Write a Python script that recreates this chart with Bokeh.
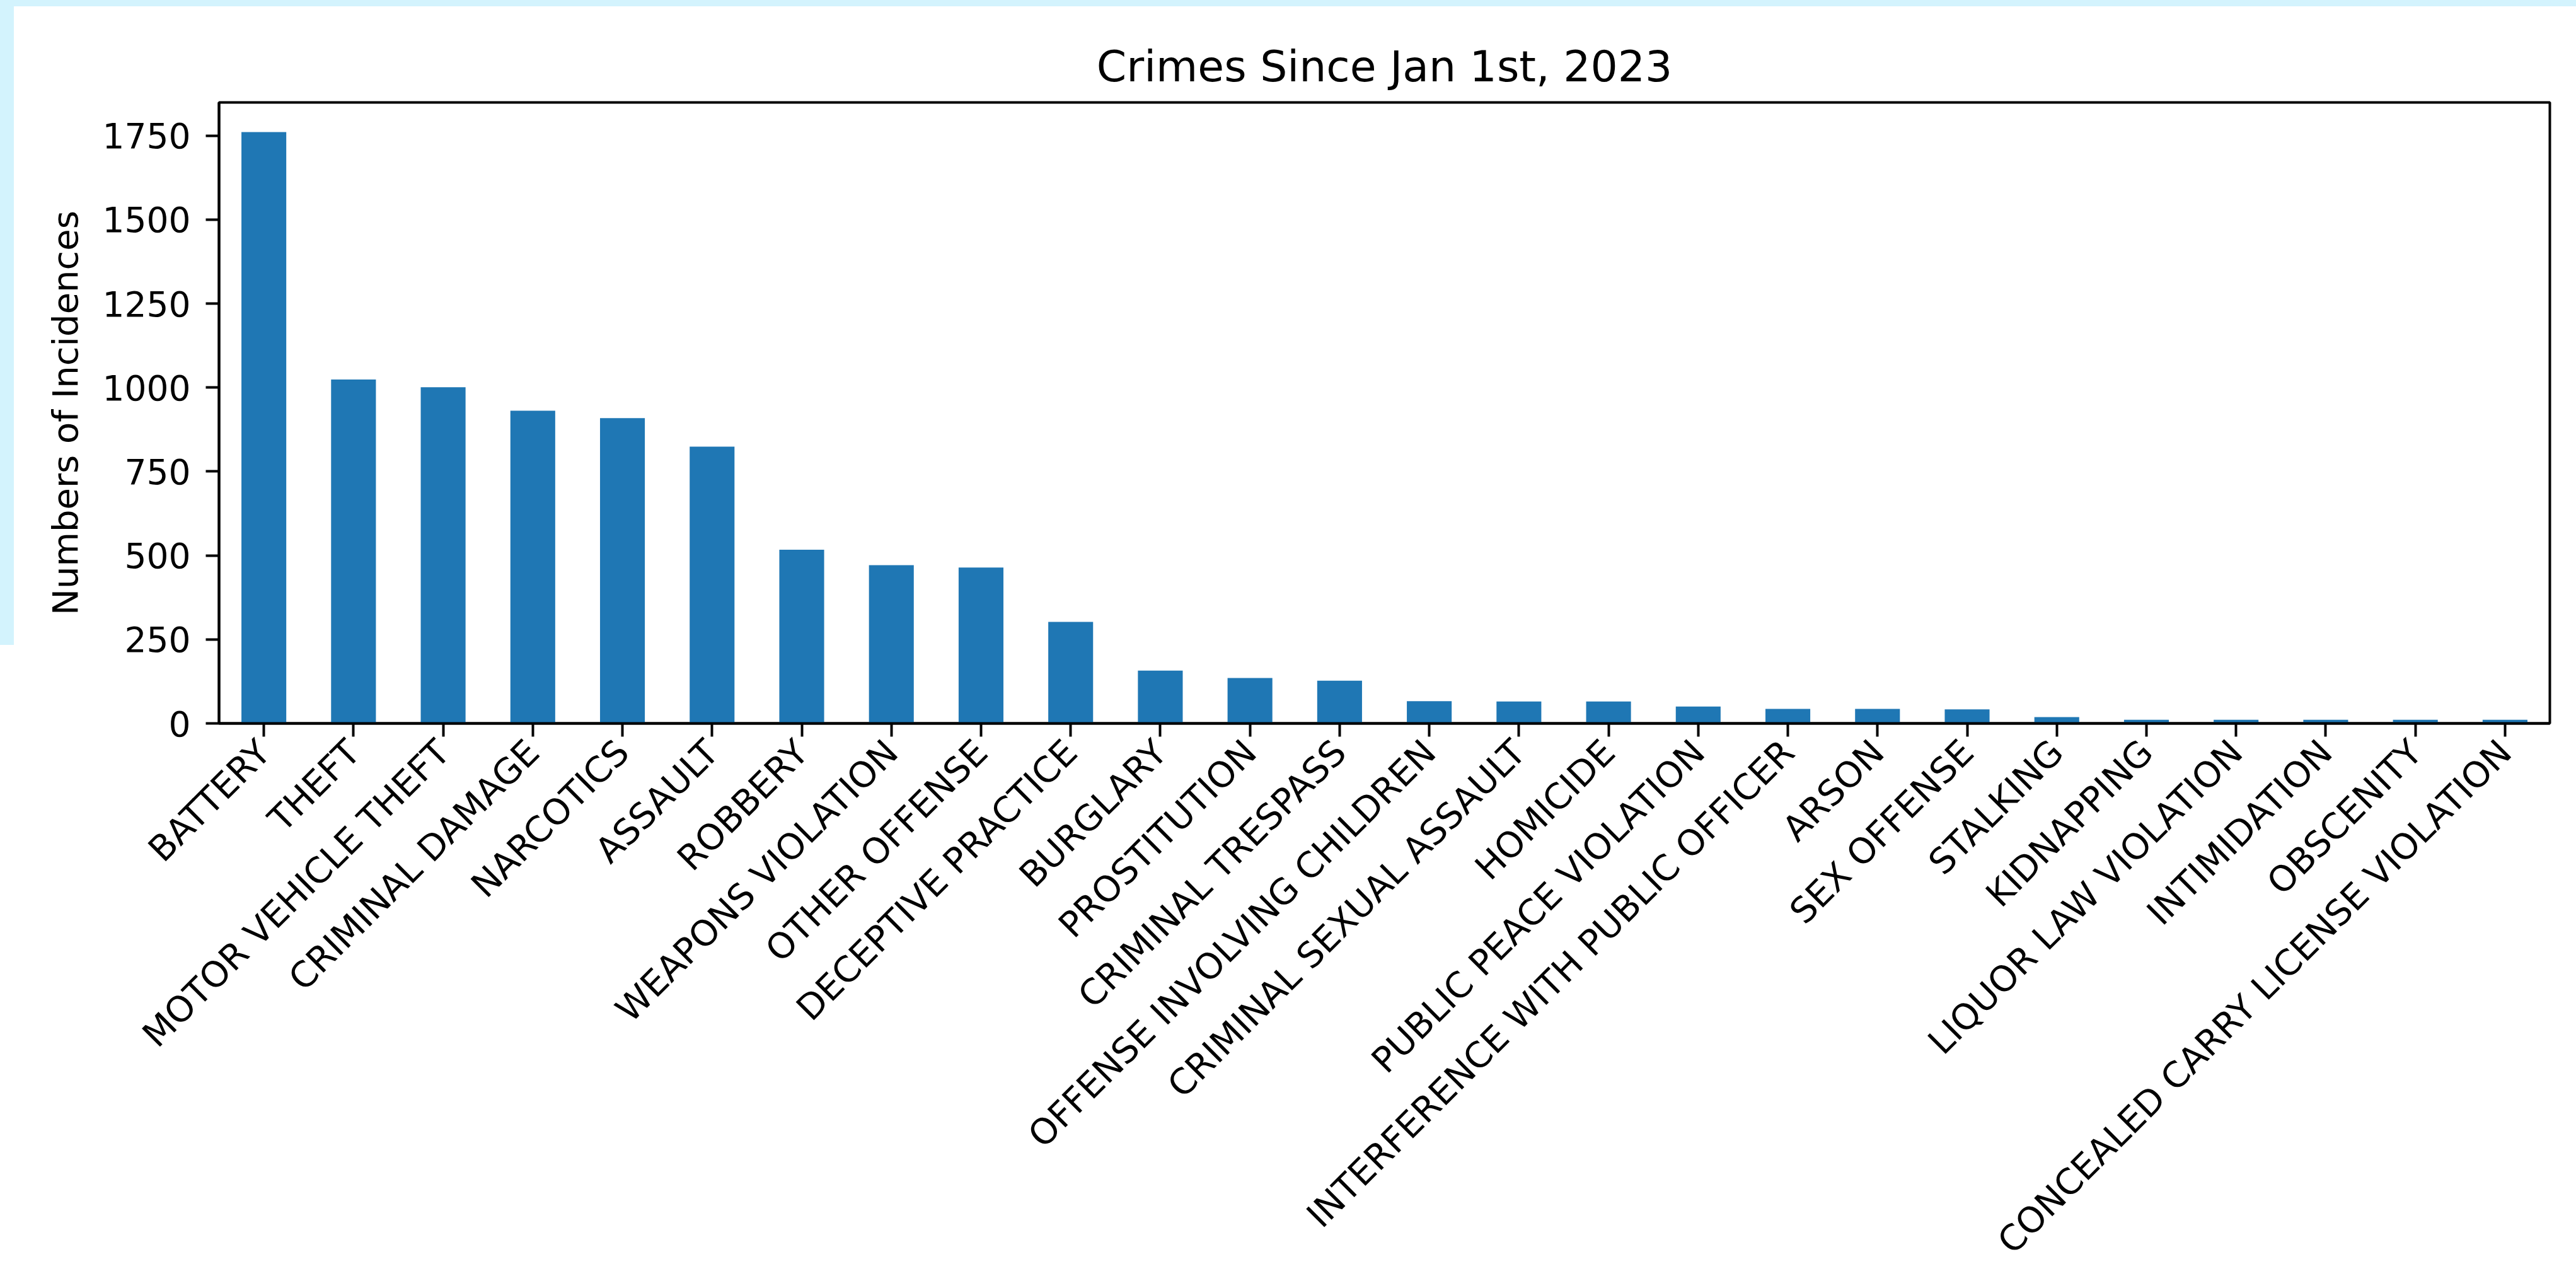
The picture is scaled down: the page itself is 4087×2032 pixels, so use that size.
import math
from bokeh.plotting import figure
from bokeh.models import FactorRange, Range1d, FixedTicker
from bokeh.layouts import column
from bokeh.embed import file_html
from bokeh.resources import INLINE

# ---- data ----
categories = [
    "BATTERY", "THEFT", "MOTOR VEHICLE THEFT", "CRIMINAL DAMAGE", "NARCOTICS",
    "ASSAULT", "ROBBERY", "WEAPONS VIOLATION", "OTHER OFFENSE", "DECEPTIVE PRACTICE",
    "BURGLARY", "PROSTITUTION", "CRIMINAL TRESPASS", "OFFENSE INVOLVING CHILDREN",
    "CRIMINAL SEXUAL ASSAULT", "HOMICIDE", "PUBLIC PEACE VIOLATION",
    "INTERFERENCE WITH PUBLIC OFFICER", "ARSON", "SEX OFFENSE", "STALKING",
    "KIDNAPPING", "LIQUOR LAW VIOLATION", "INTIMIDATION", "OBSCENITY",
    "CONCEALED CARRY LICENSE VIOLATION",
]
counts = [1761, 1024, 1001, 931, 909, 824, 517, 471, 464, 302,
          157, 135, 127, 66, 65, 65, 50, 43, 43, 42,
          19, 11, 11, 11, 11, 11]
y_ticks = [0, 250, 500, 750, 1000, 1250, 1500, 1750]
title_text = "Crimes Since Jan 1st, 2023"
y_label = "Numbers of Incidences"

FONT = "DejaVu Sans"
BAR = "#1f77b4"
CYAN = "#d3f3fd"

p = figure(
    width=4065, height=2022,
    x_range=FactorRange(factors=categories, range_padding=0),
    y_range=Range1d(0, max(counts) * 1.05),
    output_backend="svg", toolbar_location=None,
    min_border_left=325, min_border_right=42,
    min_border_top=152, min_border_bottom=885,
    background_fill_color="white", border_fill_color="white",
)
p.margin = (10, 0, 0, 22)

p.vbar(x=categories, top=counts, width=0.5, color=BAR, line_color=None)

p.title.text = title_text
p.title.align = "center"
p.title.text_font = FONT
p.title.text_font_size = "68px"
p.title.text_font_style = "normal"
p.title.text_color = "black"
p.title.standoff = 36

p.xgrid.visible = False
p.ygrid.visible = False
p.outline_line_color = "black"
p.outline_line_width = 4

for ax in (p.xaxis[0], p.yaxis[0]):
    ax.axis_line_color = "black"
    ax.axis_line_width = 4
    ax.major_tick_line_color = "black"
    ax.major_tick_line_width = 4
    ax.major_tick_in = 0
    ax.major_tick_out = 21
    ax.minor_tick_line_color = None
    ax.major_label_text_font = FONT
    ax.major_label_text_color = "black"

p.xaxis.major_label_text_font_size = "56px"
p.yaxis.major_label_text_font_size = "55px"
p.xaxis.major_label_orientation = math.pi / 4
p.xaxis.major_label_standoff = 15
p.yaxis.ticker = FixedTicker(ticks=y_ticks)
p.yaxis.major_label_standoff = 24
p.yaxis.axis_label = y_label
p.yaxis.axis_label_text_font = FONT
p.yaxis.axis_label_text_font_size = "56px"
p.yaxis.axis_label_text_font_style = "normal"
p.yaxis.axis_label_text_color = "black"
p.yaxis.axis_label_standoff = 24

bg = (f"linear-gradient({CYAN},{CYAN}) 0 0/100% 10px no-repeat, "
      f"linear-gradient({CYAN},{CYAN}) 0 0/22px 1023px no-repeat, #ffffff")
layout = column(p, width=4087, height=2032, styles={"background": bg})

open("out.html", "w").write(file_html(layout, INLINE))
